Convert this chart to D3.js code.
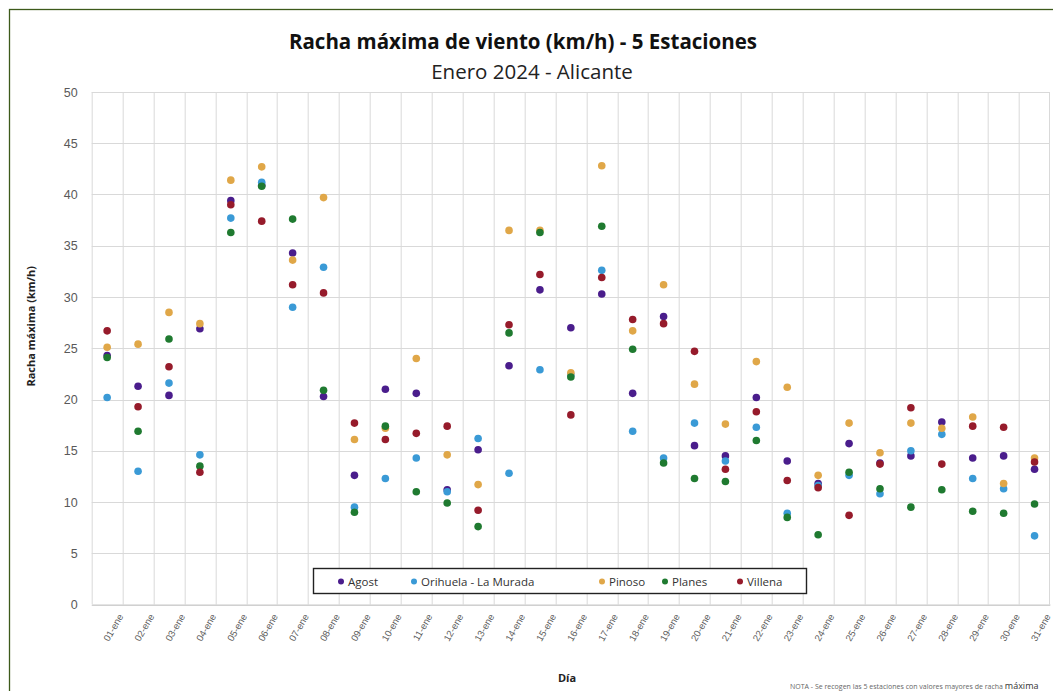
<!DOCTYPE html>
<html>
<head>
<meta charset="utf-8">
<script src="https://cdn.jsdelivr.net/npm/d3@7"></script>
<style>
  body { margin: 0; background: #fff; }
  svg { font-family: "Open Sans", "Liberation Sans", sans-serif; }
  .grid line { stroke: #d9d9d9; stroke-width: 1; }
  .axis text { fill: #595959; }
</style>
</head>
<body>
<div id="chart"></div>
<script>
var width = 1053, height = 691;
var margin = {top: 92, right: 3, bottom: 86.5, left: 91.7};

// dias del mes
var days = d3.range(1, 32).map(function(d) { return (d < 10 ? "0" + d : "" + d) + "-ene"; });

var stations = ["Agost", "Orihuela - La Murada", "Pinoso", "Planes", "Villena"];
var colors = ["#4a1d8c", "#3a9ad6", "#e0a748", "#1f7a30", "#961b2b"];

// valores (km/h)
var agost    = [24.3, 21.3, 20.4, 26.9, 39.4, 40.9, 34.3, 20.3, 12.6, 21.0, 20.6, 11.2, 15.1, 23.3, 30.7, 27.0, 30.3, 20.6, 28.1, 15.5, 14.5, 20.2, 14.0, 11.8, 15.7, 13.8, 14.5, 17.8, 14.3, 14.5, 13.2];
var orihuela = [20.2, 13.0, 21.6, 14.6, 37.7, 41.2, 29.0, 32.9,  9.5, 12.3, 14.3, 11.0, 16.2, 12.8, 22.9, 22.4, 32.6, 16.9, 14.3, 17.7, 14.0, 17.3,  8.9, 11.6, 12.6, 10.8, 15.0, 16.6, 12.3, 11.3,  6.7];
var pinoso   = [25.1, 25.4, 28.5, 27.4, 41.4, 42.7, 33.6, 39.7, 16.1, 17.2, 24.0, 14.6, 11.7, 36.5, 36.5, 22.6, 42.8, 26.7, 31.2, 21.5, 17.6, 23.7, 21.2, 12.6, 17.7, 14.8, 17.7, 17.2, 18.3, 11.8, 14.3];
var planes   = [24.1, 16.9, 25.9, 13.5, 36.3, 40.8, 37.6, 20.9,  9.0, 17.4, 11.0,  9.9,  7.6, 26.5, 36.3, 22.2, 36.9, 24.9, 13.8, 12.3, 12.0, 16.0,  8.5,  6.8, 12.9, 11.3,  9.5, 11.2,  9.1,  8.9,  9.8];
var villena  = [26.7, 19.3, 23.2, 12.9, 39.0, 37.4, 31.2, 30.4, 17.7, 16.1, 16.7, 17.4,  9.2, 27.3, 32.2, 18.5, 31.9, 27.8, 27.4, 24.7, 13.2, 18.8, 12.1, 11.4,  8.7, 13.7, 19.2, 13.7, 17.4, 17.3, 13.9];

var yTicks = [0, 5, 10, 15, 20, 25, 30, 35, 40, 45, 50];

var series = [agost, orihuela, pinoso, planes, villena];

var w = width - margin.left - margin.right;
var h = height - margin.top - margin.bottom;

var svg = d3.select("#chart").append("svg")
    .attr("width", width)
    .attr("height", height);

// marco exterior (solo se ven el borde superior e izquierdo)
svg.append("rect")
    .attr("x", 9.5).attr("y", 9.5)
    .attr("width", width + 20).attr("height", height + 20)
    .attr("fill", "none")
    .attr("stroke", "#3d5a1a")
    .attr("stroke-width", 1.3);

svg.append("text")
    .attr("x", 523).attr("y", 49)
    .attr("text-anchor", "middle")
    .style("font-size", "20.5px").style("font-weight", "bold")
    .attr("fill", "#111")
    .text("Racha máxima de viento (km/h) - 5 Estaciones");

svg.append("text")
    .attr("x", 532).attr("y", 79)
    .attr("text-anchor", "middle")
    .style("font-size", "20.5px")
    .attr("fill", "#222")
    .text("Enero 2024 - Alicante");

var g = svg.append("g")
    .attr("transform", "translate(" + margin.left + "," + margin.top + ")");

var x = d3.scaleBand().domain(days).range([0, w]);
var y = d3.scaleLinear().domain([0, 50]).range([h, 0]);

// rejilla horizontal
g.append("g").attr("class", "grid")
    .selectAll("line").data(yTicks).enter().append("line")
    .attr("x1", 0).attr("x2", w)
    .attr("y1", function(d) { return Math.round(y(d)) + 0.5; })
    .attr("y2", function(d) { return Math.round(y(d)) + 0.5; });

// rejilla vertical
g.append("g").attr("class", "grid")
    .selectAll("line").data(days).enter().append("line")
    .attr("x1", function(d) { return Math.round(x(d)) + 0.5; })
    .attr("x2", function(d) { return Math.round(x(d)) + 0.5; })
    .attr("y1", 0).attr("y2", h);

g.append("line")
    .attr("x1", w - 0.5).attr("x2", w - 0.5).attr("y1", 0).attr("y2", h)
    .attr("stroke", "#d9d9d9");

// eje y
var yAxis = g.append("g").attr("class", "axis")
    .call(d3.axisLeft(y).tickValues(yTicks).tickSize(0).tickPadding(14));
yAxis.select(".domain").remove();
yAxis.selectAll("text").style("font-size", "12.5px");

// eje x
var xAxis = g.append("g").attr("class", "axis")
    .attr("transform", "translate(0," + h + ")")
    .call(d3.axisBottom(x).tickSize(0));
xAxis.select(".domain").attr("stroke", "#c8c8c8");
xAxis.selectAll("text")
    .style("font-size", "9.5px")
    .style("text-anchor", "end")
    .attr("dx", "0.1em")
    .attr("dy", "0.9em")
    .attr("transform", "translate(6,7) rotate(-60)");

svg.append("text")
    .attr("transform", "translate(35," + (margin.top + h / 2 - 22) + ") rotate(-90)")
    .attr("text-anchor", "middle")
    .style("font-size", "11px").style("font-weight", "bold")
    .attr("fill", "#222")
    .text("Racha máxima (km/h)");

svg.append("text")
    .attr("x", 567).attr("y", 682)
    .attr("text-anchor", "middle")
    .style("font-size", "11px").style("font-weight", "bold")
    .attr("fill", "#222")
    .text("Día");

var nota = svg.append("text")
    .attr("x", 790).attr("y", 689)
    .style("font-size", "7px")
    .attr("fill", "#666");
nota.append("tspan").text("NOTA - Se recogen las 5 estaciones con valores mayores de racha ");
nota.append("tspan").style("font-size", "9px").attr("fill", "#333").text("máxima");

// puntos
series.forEach(function(vals, si) {
    g.append("g")
        .selectAll("circle").data(vals).enter().append("circle")
        .attr("cx", function(d, i) { return x(days[i]) + x.bandwidth() / 2; })
        .attr("cy", function(d) { return y(d); })
        .attr("r", 3.8)
        .attr("fill", colors[si]);
});

// leyenda
var legend = svg.append("g").attr("transform", "translate(313,568)");
legend.append("rect")
    .attr("x", 0.5).attr("y", 0.5)
    .attr("width", 493).attr("height", 25)
    .attr("fill", "#fff")
    .attr("stroke", "#222")
    .attr("stroke-width", 1.4);

var legendX = [28, 101, 289, 352, 427];
stations.forEach(function(s, i) {
    legend.append("circle")
        .attr("cx", legendX[i]).attr("cy", 13.5)
        .attr("r", 3)
        .attr("fill", colors[i]);
    legend.append("text")
        .attr("x", legendX[i] + 7).attr("y", 17.5)
        .style("font-size", "11.5px")
        .attr("fill", "#333")
        .text(s);
});
</script>
</body>
</html>
